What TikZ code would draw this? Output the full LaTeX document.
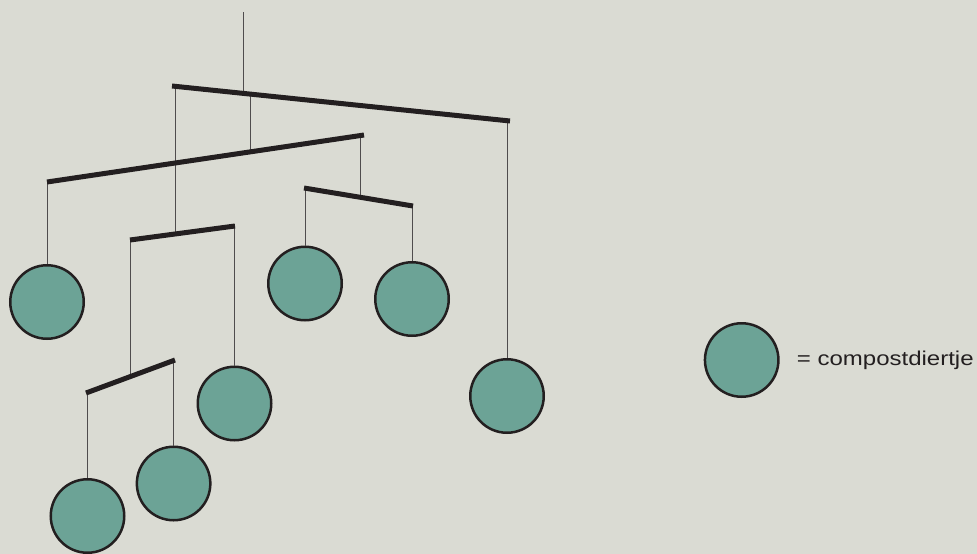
\documentclass[tikz,border=0pt]{standalone}
\usepackage{fontspec}
\setmainfont{Liberation Sans}
\newfontfamily\legendfont[FakeStretch=1.2]{Liberation Sans}
\usetikzlibrary{positioning}

\definecolor{bgcol}{RGB}{218,219,211}
\definecolor{diercol}{RGB}{108,163,150}
\definecolor{barcol}{RGB}{35,31,32}

\tikzset{
    bar/.style={draw=barcol, line width=5pt},
    string/.style={draw=barcol!80, line width=1pt},
    dier/.style={circle, draw=barcol, line width=2.5pt, fill=diercol, minimum size=73.5pt, inner sep=0pt}
}

\begin{document}
\begin{tikzpicture}[x=1pt, y=-1pt]
    % Background and size of the page
    \path[use as bounding box, fill=bgcol] (0,0) rectangle (977,554);

    % Define the ends of the bars
    \coordinate (B1l) at (172,86);
    \coordinate (B1r) at (510,121);
    \coordinate (B2l) at (47,182);
    \coordinate (B2r) at (364,135);
    \coordinate (B3l) at (130,240);
    \coordinate (B3r) at (235,226);
    \coordinate (B4l) at (304,188);
    \coordinate (B4r) at (413,206);
    \coordinate (B5l) at (86,393);
    \coordinate (B5r) at (175,360);

    % Define the points where the strings hang
    \coordinate (hook) at (243.5,12);
    \coordinate (T1) at (243.5,93.4);
    \coordinate (T1a) at (175,86.3);
    \coordinate (T1b) at (250.3,94.1);
    \coordinate (T1c) at (507,120.7);
    \coordinate (T2a) at (47,182);
    \coordinate (T2b) at (250.3,151.9);
    \coordinate (T2c) at (360.5,135.5);
    \coordinate (T3a) at (175,234.2);
    \coordinate (T3b) at (130.4,240);
    \coordinate (T3c) at (234.5,226.2);
    \coordinate (T4a) at (360.5,197.3);
    \coordinate (T4b) at (305,188.2);
    \coordinate (T4c) at (412,205.8);
    \coordinate (T5a) at (130.4,376.5);
    \coordinate (T5b) at (87.5,392.5);
    \coordinate (T5c) at (173.6,360.5);

    % The compost animals
    \node[dier] (d1) at (47,302) {};
    \node[dier] (d2) at (305,283.5) {};
    \node[dier] (d3) at (412,299) {};
    \node[dier] (d4) at (234.5,403.5) {};
    \node[dier] (d5) at (87.5,516) {};
    \node[dier] (d6) at (173.6,483.5) {};
    \node[dier] (d7) at (507,396) {};

    % Draw the strings
    \draw[string] (hook) -- (T1);
    \draw[string] (T1a) -- (T3a);
    \draw[string] (T1b) -- (T2b);
    \draw[string] (T1c) -- (d7.north);
    \draw[string] (T2a) -- (d1.north);
    \draw[string] (T2c) -- (T4a);
    \draw[string] (T4b) -- (d2.north);
    \draw[string] (T4c) -- (d3.north);
    \draw[string] (T3b) -- (T5a);
    \draw[string] (T3c) -- (d4.north);
    \draw[string] (T5b) -- (d5.north);
    \draw[string] (T5c) -- (d6.north);

    % Draw the bars
    \draw[bar] (B1l) -- (B1r);
    \draw[bar] (B2l) -- (B2r);
    \draw[bar] (B3l) -- (B3r);
    \draw[bar] (B4l) -- (B4r);
    \draw[bar] (B5l) -- (B5r);

    % Legend
    \node[dier] (legdier) at (741.7,360) {};
    \node[right=17pt of legdier, inner sep=0pt, text=barcol, font=\legendfont\fontsize{20}{24}\selectfont] (legtekst) {= compostdiertje};
\end{tikzpicture}
\end{document}
